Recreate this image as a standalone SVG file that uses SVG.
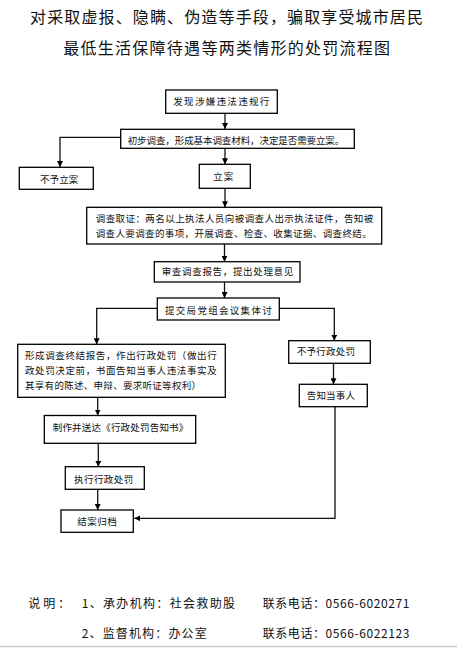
<svg xmlns="http://www.w3.org/2000/svg" width="457" height="648" viewBox="0 0 457 648">
<defs>
<marker id="arr" viewBox="0 0 10 10" refX="10" refY="5" markerWidth="6" markerHeight="6" markerUnits="userSpaceOnUse" orient="auto">
<path d="M0,0 L10,5 L0,10 z" fill="#000"/>
</marker>
<style>
.box{fill:#fff;stroke:#000;stroke-width:1.3}
.t{font-family:"Noto Sans CJK SC","Noto Sans",sans-serif;font-size:9.5px;fill:#111}
.title{font-family:"Noto Sans CJK SC","Noto Sans",sans-serif;font-size:16px;fill:#111}
.foot{font-family:"Noto Sans CJK SC","Liberation Serif",serif;font-size:12px;fill:#111}
.c{fill:none;stroke:#111;stroke-width:1.3}
.ca{fill:none;stroke:#111;stroke-width:1.3;marker-end:url(#arr)}
</style>
</defs>
<rect width="457" height="648" fill="#fff"/>
<g id="title">
<text class="title" x="30" y="22.8" textLength="393" lengthAdjust="spacing">对采取虚报、隐瞒、伪造等手段，骗取享受城市居民</text>
<text class="title" x="63.3" y="54.4" textLength="326.7" lengthAdjust="spacing">最低生活保障待遇等两类情形的处罚流程图</text>
</g>
<g id="connectors">
<line class="ca" x1="225" y1="113.3" x2="225" y2="129"/>
<polyline class="ca" points="120.7,137.3 60,137.3 60,167"/>
<line class="ca" x1="225" y1="148.3" x2="225" y2="164.3"/>
<line class="ca" x1="225" y1="188.3" x2="225" y2="207.3"/>
<line class="ca" x1="224.5" y1="244" x2="224.5" y2="261.7"/>
<line class="ca" x1="224.5" y1="282" x2="224.5" y2="298"/>
<polyline class="ca" points="157.3,308.3 96.7,308.3 96.7,344.3"/>
<polyline class="ca" points="279.3,308.3 334.3,308.3 334.3,340.7"/>
<line class="ca" x1="333.5" y1="363.3" x2="333.5" y2="384.3"/>
<line class="ca" x1="97.7" y1="397.3" x2="97.7" y2="415.5"/>
<polyline class="ca" points="335,406.7 335,518.3 134.3,518.3"/>
<line class="ca" x1="98.3" y1="443.3" x2="98.3" y2="466.7"/>
<line class="ca" x1="97.7" y1="489.3" x2="97.7" y2="510"/>
</g>
<g id="n1">
<rect class="box" x="165.7" y="90" width="111.6" height="23.3"/>
<text class="t" x="173.3" y="105.4" font-size="10" textLength="96" lengthAdjust="spacing">发现涉嫌违法违规行</text>
</g>
<g id="n2">
<rect class="box" x="120.7" y="129.3" width="233.6" height="19"/>
<text class="t" x="127.7" y="143.6" textLength="216.6" lengthAdjust="spacing">初步调查，形成基本调查材料，决定是否需要立案。</text>
</g>
<g id="n3">
<rect class="box" x="19.3" y="167.3" width="74" height="22"/>
<text class="t" x="40" y="182.6" textLength="38.3" lengthAdjust="spacing">不予立案</text>
</g>
<g id="n4">
<rect class="box" x="199.3" y="164.3" width="51" height="24"/>
<text class="t" x="213.3" y="179.6" textLength="20" lengthAdjust="spacing">立案</text>
</g>
<g id="n5">
<rect class="box" x="86.7" y="207.3" width="295" height="36.7"/>
<text class="t" x="95.7" y="221.9" textLength="277.6" lengthAdjust="spacing">调查取证：两名以上执法人员向被调查人出示执法证件，告知被</text>
<text class="t" x="95.7" y="236.9" textLength="276" lengthAdjust="spacing">调查人要调查的事项，开展调查、检查、收集证据、调查终结。</text>
</g>
<g id="n6">
<rect class="box" x="154.3" y="261.7" width="145.7" height="20.3"/>
<text class="t" x="161.7" y="275.3" textLength="131.6" lengthAdjust="spacing">审查调查报告，提出处理意见</text>
</g>
<g id="n7">
<rect class="box" x="157.3" y="298" width="122" height="22"/>
<text class="t" x="165" y="314.3" textLength="106.7" lengthAdjust="spacing">提交局党组会议集体讨</text>
</g>
<g id="n8">
<rect class="box" x="17.7" y="344.3" width="207.6" height="53"/>
<text class="t" x="25" y="358.6" textLength="191.7" lengthAdjust="spacing">形成调查终结报告，作出行政处罚（做出行</text>
<text class="t" x="25" y="373.6" textLength="191.7" lengthAdjust="spacing">政处罚决定前，书面告知当事人违法事实及</text>
<text class="t" x="25" y="388.6" textLength="176" lengthAdjust="spacing">其享有的陈述、申辩、要求听证等权利）</text>
</g>
<g id="n9">
<rect class="box" x="288.7" y="340.7" width="81.6" height="22.6"/>
<text class="t" x="296.7" y="355.3" textLength="58.3" lengthAdjust="spacing">不予行政处罚</text>
</g>
<g id="n10">
<rect class="box" x="299.3" y="384.3" width="68" height="22.4"/>
<text class="t" x="306.7" y="399.3" textLength="48.3" lengthAdjust="spacing">告知当事人</text>
</g>
<g id="n11">
<rect class="box" x="44.3" y="415.5" width="151.4" height="27.8"/>
<text class="t" x="52.7" y="430.9" textLength="135.6" lengthAdjust="spacing">制作并送达《行政处罚告知书》</text>
</g>
<g id="n12">
<rect class="box" x="65.3" y="466.7" width="79" height="22.6"/>
<text class="t" x="74" y="482.9" textLength="59.3" lengthAdjust="spacing">执行行政处罚</text>
</g>
<g id="n13">
<rect class="box" x="61" y="510" width="72.3" height="22.3"/>
<text class="t" x="77.3" y="524.6" textLength="39.4" lengthAdjust="spacing">结案归档</text>
</g>
<g id="footer">
<text class="foot" x="28.3" y="607.8" textLength="41.7" lengthAdjust="spacing">说明：</text>
<text class="foot" x="81.7" y="607.8" textLength="153.3" lengthAdjust="spacing">1、承办机构：社会救助股</text>
<text class="foot" x="262.7" y="607.8" textLength="146.6" lengthAdjust="spacing">联系电话：0566-6020271</text>
<text class="foot" x="81.7" y="637.8" textLength="125" lengthAdjust="spacing">2、监督机构：办公室</text>
<text class="foot" x="262.7" y="637.8" textLength="146.6" lengthAdjust="spacing">联系电话：0566-6022123</text>
</g>
<line x1="0" y1="646.5" x2="457" y2="646.5" stroke="#cfcfcf" stroke-width="1.5"/>
</svg>
